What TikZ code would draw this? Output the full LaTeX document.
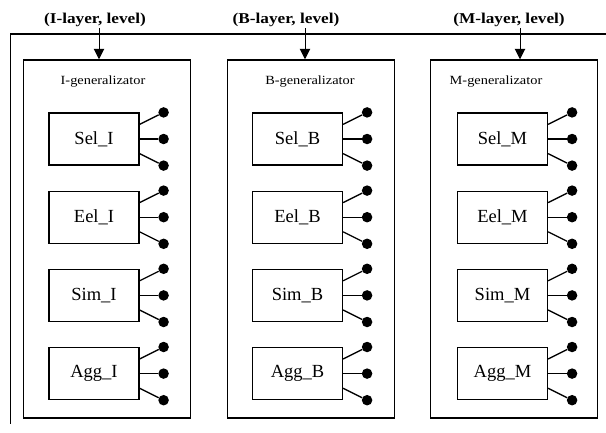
\documentclass[tikz,border=0pt]{standalone}
\usepackage{fontspec}
\setmainfont{Liberation Serif}
\newfontfamily\widefont[FakeStretch=1.15]{Liberation Serif}
\usepackage{tikz}
\usetikzlibrary{positioning,arrows.meta}

\begin{document}
\begin{tikzpicture}[x=1pt, y=-1pt, node distance = 25pt]
            \tikzstyle{layer} = [font=\widefont\bfseries\fontsize{15}{17}\selectfont, inner sep=0pt];
            \tikzstyle{gen} = [draw=black, line width=1.5pt, minimum width=167pt, minimum height=358pt, inner sep=0pt];
            \tikzstyle{title} = [font=\widefont\fontsize{12.5}{14}\selectfont, inner sep=0pt];
            \tikzstyle{func} = [draw=black, line width=1.2pt, minimum width=90pt, minimum height=52pt, inner sep=0pt, font=\fontsize{18.5}{20}\selectfont];
            \tikzstyle{dot} = [circle, fill=black, inner sep=0pt, minimum size=10.5pt];
            \tikzstyle{wire} = [line width=1.3pt];
            \tikzstyle{feed} = [-{Triangle[width=10.5pt,length=10.5pt]}, line width=1pt];

            \useasboundingbox (0,0) rectangle (606,432);

            % frame
            \coordinate (F0) at (10,34);
            \coordinate (F1) at (606,34);
            \coordinate (F2) at (10,424);
            \draw [line width=1.3pt] (F0) -- (F1);
            \draw [line width=0.8pt] (F0) -- (F2);

            % layer inputs
            \node [layer] (LI) at (95,20) {(I-layer, level)};
            \node [layer] (LB) at (286,20) {(B-layer, level)};
            \node [layer] (LM) at (509,20) {(M-layer, level)};

            % generalizators
            \node [gen] (GI) at (107,239) {};
            \node [gen] (GB) at (311,239) {};
            \node [gen] (GM) at (514,239) {};

            \node [title] (TI) at (103,82) {I-generalizator};
            \node [title] (TB) at (310,82) {B-generalizator};
            \node [title] (TM) at (496,82) {M-generalizator};

            \coordinate (aI) at (99,28);
            \coordinate (aB) at (305,28);
            \coordinate (aM) at (520,28);
            \draw [feed] (aI) -- (aI |- GI.north);
            \draw [feed] (aB) -- (aB |- GB.north);
            \draw [feed] (aM) -- (aM |- GM.north);

            % I
            \node [func] (SelI) at (94,139) {Sel\_I};
            \node [func, below = of SelI] (EelI) {Eel\_I};
            \node [func, below = of EelI] (SimI) {Sim\_I};
            \node [func, below = of SimI] (AggI) {Agg\_I};

            % B
            \node [func] (SelB) at (297.5,139) {Sel\_B};
            \node [func, below = of SelB] (EelB) {Eel\_B};
            \node [func, below = of EelB] (SimB) {Sim\_B};
            \node [func, below = of SimB] (AggB) {Agg\_B};

            % M
            \node [func] (SelM) at (502.5,139) {Sel\_M};
            \node [func, below = of SelM] (EelM) {Eel\_M};
            \node [func, below = of EelM] (SimM) {Sim\_M};
            \node [func, below = of SimM] (AggM) {Agg\_M};

            % outputs
            \foreach \b in {SelI,EelI,SimI,AggI,SelB,EelB,SimB,AggB,SelM,EelM,SimM,AggM} {
                \node [dot] (\b-1) at ([xshift=24pt]\b.north east) {};
                \node [dot] (\b-2) at ([xshift=24pt]\b.east) {};
                \node [dot] (\b-3) at ([xshift=24pt]\b.south east) {};
                \draw [wire] ([yshift=-12pt]\b.north east) -- (\b-1);
                \draw [wire] (\b.east) -- (\b-2);
                \draw [wire] ([yshift=12pt]\b.south east) -- (\b-3);
            }
        \end{tikzpicture}
\end{document}
